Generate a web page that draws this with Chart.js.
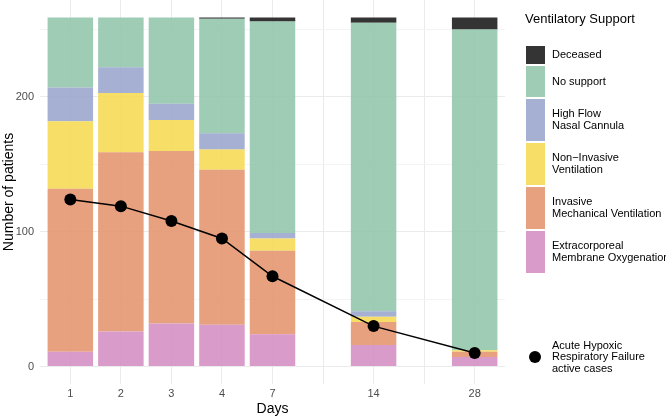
<!DOCTYPE html>
<html>
<head>
<meta charset="utf-8">
<script src="https://cdn.jsdelivr.net/npm/chart.js@4.4.0/dist/chart.umd.min.js"></script>
<style>
  html, body { margin: 0; padding: 0; background: #fff; }
  #wrap { width: 666px; height: 416px; }
</style>
</head>
<body>
<div id="wrap"><canvas id="chart"></canvas></div>
<script>
// factor levels of the x axis (blank levels keep the gaps before 14 and 28)
var days = ['1', '2', '3', '4', '7', '', '14', '', '28']

var ecmo      = [11, 26, 32, 31, 24, null, 16, null, 7]
var imv       = [121, 133, 128, 115, 62, null, 17, null, 4]
var niv       = [50, 44, 23, 15, 9, null, 4, null, 1]
var hfnc      = [25, 19, 12, 12, 4, null, 4, null, 0]
var noSupport = [52, 37, 64, 85, 157, null, 214, null, 238]
var deceased  = [0, 0, 0, 1, 3, null, 4, null, 9]
var ahrf      = [124, 119, 108, 95, 67, null, 30, null, 10]

var yTicks = [0, 50, 100, 150, 200, 250]

var FONT = '"Liberation Sans", Arial, Helvetica, sans-serif'

// bottom to top
var series = [
  { name: 'Extracorporeal\nMembrane Oxygenation', data: ecmo, color: 'rgba(213,144,195,0.9)' },
  { name: 'Invasive\nMechanical Ventilation', data: imv, color: 'rgba(229,151,113,0.9)' },
  { name: 'Non\u2212Invasive\nVentilation', data: niv, color: 'rgba(245,218,87,0.9)' },
  { name: 'High Flow\nNasal Cannula', data: hfnc, color: 'rgba(156,167,205,0.9)' },
  { name: 'No support', data: noSupport, color: 'rgba(148,198,173,0.9)' },
  { name: 'Deceased', data: deceased, color: 'rgba(35,35,35,0.92)' }
]

function toPoints(arr) {
  var out = []
  arr.forEach(function (v, i) { if (v !== null) out.push({ x: i + 1, y: v }) })
  return out
}

var datasets = series.map(function (s) {
  return {
    type: 'bar',
    label: s.name,
    data: toPoints(s.data),
    backgroundColor: s.color,
    borderWidth: 0,
    barPercentage: 0.9,
    categoryPercentage: 1.0,
    stack: 'support',
    order: 2
  }
})
datasets.push({
  type: 'line',
  label: 'Acute Hypoxic\nRespiratory Failure\nactive cases',
  data: toPoints(ahrf),
  borderColor: '#000',
  backgroundColor: '#000',
  borderWidth: 1.5,
  pointRadius: 6,
  pointBackgroundColor: '#000',
  pointBorderWidth: 0,
  tension: 0,
  stack: 'line',
  order: 0
})

// ggplot-style legend on the right
var legendBox = {
  id: 'legendBox',
  afterDraw: function (chart) {
    var c = chart.ctx
    c.save()
    c.textBaseline = 'middle'
    c.textAlign = 'left'
    c.fillStyle = '#000'
    c.font = '13px ' + FONT
    c.fillText('Ventilatory Support', 525, 19)

    var heights = [18, 31, 42, 42, 42, 42]
    var y = 46
    c.font = '11px ' + FONT
    for (var k = 0; k < heights.length; k++) {
      var s = series[series.length - 1 - k]
      c.fillStyle = s.color
      c.fillRect(526, y, 19, heights[k])
      var lines = s.name.split('\n')
      var lh = 11.7
      var cy = y + heights[k] / 2 - (lines.length - 1) * lh / 2
      c.fillStyle = '#000'
      lines.forEach(function (t, j) { c.fillText(t, 552, cy + j * lh) })
      y += heights[k] + 2
    }

    c.fillStyle = '#000'
    c.beginPath()
    c.arc(535, 357, 6, 0, Math.PI * 2)
    c.fill()
    var al = datasets[datasets.length - 1].label.split('\n')
    al.forEach(function (t, j) { c.fillText(t, 552, 345.5 + j * 11.5) })
    c.restore()
  }
}

function noPad(scale) {
  scale.paddingTop = 0
  scale.paddingBottom = 0
  scale.paddingLeft = 0
  scale.paddingRight = 0
}

var ctx = document.getElementById('chart')
var myChart = new Chart(ctx, {
  type: 'bar',
  data: { datasets: datasets },
  plugins: [legendBox],
  options: {
    responsive: true,
    maintainAspectRatio: false,
    animation: false,
    layout: { autoPadding: false, padding: { top: 0, right: 161, bottom: 0, left: 0 } },
    plugins: { legend: { display: false }, tooltip: { enabled: false } },
    scales: {
      x: {
        type: 'linear',
        offset: false,
        min: 0.4,
        max: days.length + 0.6,
        afterBuildTicks: function (scale) {
          scale.ticks = days.map(function (d, i) { return { value: i + 1 } })
        },
        afterFit: function (scale) { scale.height = 32; noPad(scale) },
        ticks: {
          callback: function (v) { return days[v - 1] },
          color: '#4D4D4D',
          font: { family: FONT, size: 11 },
          padding: 3,
          maxRotation: 0,
          autoSkip: false
        },
        grid: { color: '#EBEBEB', lineWidth: 1, drawTicks: false, offset: false },
        border: { display: false },
        title: { display: true, text: 'Days', color: '#000', font: { family: FONT, size: 14 }, padding: { top: 4, bottom: -2 } }
      },
      y: {
        stacked: true,
        min: -12.95,
        max: 271.95,
        afterBuildTicks: function (scale) {
          scale.ticks = yTicks.map(function (v) { return { value: v } })
        },
        afterFit: function (scale) { scale.width = 40; noPad(scale) },
        ticks: {
          callback: function (v) { return v % 100 === 0 ? v : '' },
          color: '#4D4D4D',
          font: { family: FONT, size: 11 },
          padding: 6
        },
        grid: {
          color: function (c) { return c.tick && c.tick.value % 100 === 0 ? '#EBEBEB' : '#F4F4F4' },
          lineWidth: 1,
          drawTicks: false
        },
        border: { display: false },
        title: { display: true, text: 'Number of patients', color: '#000', font: { family: FONT, size: 14 }, padding: { top: 1, bottom: 4 } }
      }
    }
  }
})
</script>
</body>
</html>
